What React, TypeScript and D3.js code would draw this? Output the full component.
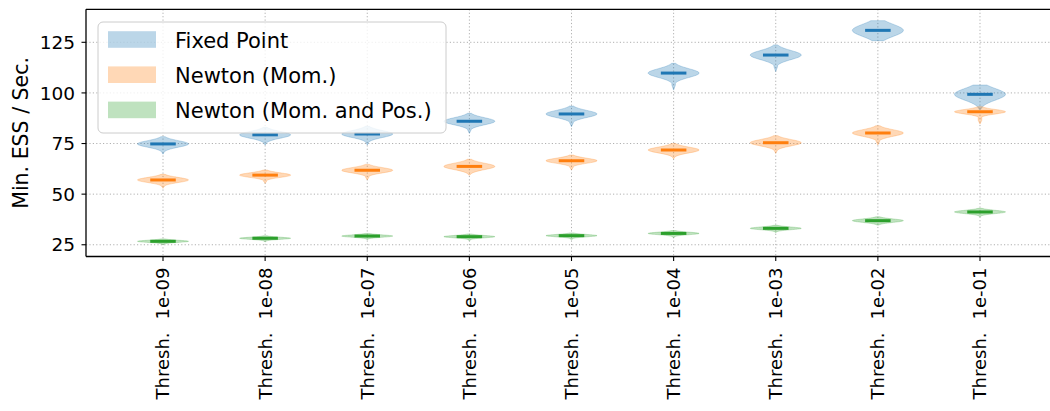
import React from "react";
import * as d3 from "d3";

const categories = ["1e-09", "1e-08", "1e-07", "1e-06", "1e-05", "1e-04", "1e-03", "1e-02", "1e-01"];
const yTicks = [25, 50, 75, 100, 125];

const seriesNames = ["Fixed Point", "Newton (Mom.)", "Newton (Mom. and Pos.)"];
const seriesColors = ["#1f77b4", "#ff7f0e", "#2ca02c"];

// medians, upper and lower extents of each violin
const fixedMed = [74.8, 79.3, 79.7, 86.0, 89.6, 109.8, 118.7, 130.9, 99.3];
const fixedHi = [78.4, 83.0, 83.5, 89.9, 93.5, 114.6, 123.7, 135.7, 103.9];
const fixedLo = [69.8, 74.3, 74.3, 80.0, 83.3, 101.4, 110.5, 125.8, 91.8];
const fixedShape = [2.5, 2.5, 2.5, 2.5, 2.5, 2.5, 2.5, 1.3, 1.3];

const newtonMed = [57.0, 59.4, 61.8, 63.7, 66.5, 71.8, 75.4, 80.2, 90.7];
const newtonHi = [59.8, 61.9, 64.7, 67.2, 69.3, 75.0, 78.9, 83.8, 93.2];
const newtonLo = [52.9, 55.3, 57.0, 59.4, 61.9, 67.5, 70.2, 74.3, 84.6];
const newtonShape = [2.5, 2.5, 2.5, 2.5, 2.5, 2.5, 2.5, 2.5, 2.5];

const posMed = [26.7, 28.2, 29.3, 29.0, 29.5, 30.6, 33.1, 36.9, 41.2];
const posHi = [27.9, 29.4, 30.6, 30.3, 30.8, 32.0, 34.6, 38.8, 43.0];
const posLo = [25.0, 26.4, 27.5, 27.0, 27.5, 28.5, 31.0, 34.7, 38.8];
const posShape = [2.5, 2.5, 2.5, 2.5, 2.5, 2.5, 2.5, 2.5, 2.5];

const series = [
  { med: fixedMed, hi: fixedHi, lo: fixedLo, shape: fixedShape },
  { med: newtonMed, hi: newtonHi, lo: newtonLo, shape: newtonShape },
  { med: posMed, hi: posHi, lo: posLo, shape: posShape },
];

const W = 1050;
const H = 411;
const FONT = "DejaVu Sans";

const x = d3.scaleLinear().domain([0.246, 9.754]).range([86, 1057]);
const y = d3.scaleLinear().domain([19.2, 141.3]).range([256.5, 9.3]);

function profile(v: number, med: number, hi: number, lo: number, k: number) {
  const h = Math.max(hi - med, 0.3);
  const d = v - med;
  let f = Math.exp(-k * (d / h) * (d / h));
  if (d < 0) {
    const depth = Math.max(med - lo, 0.01);
    const taper = Math.min(1, (v - lo) / (0.3 * depth));
    f = Math.max(f, 0.07 * taper);
  }
  return f;
}

export default function App() {
  const halfMax = x(1.25) - x(1);
  const area = d3
    .area<{ v: number; w: number; c: number }>()
    .y((d) => y(d.v))
    .x0((d) => d.c - d.w)
    .x1((d) => d.c + d.w)
    .curve(d3.curveBasis);

  const plotTop = y(141.3);
  const plotBottom = y(19.2);
  const plotLeft = x(0.246);
  const plotRight = x(9.754);

  return (
    <svg
      width={W}
      height={H}
      style={{ position: "absolute", left: 0, top: 0, background: "#fff", fontFamily: FONT }}
    >
      <rect x={0} y={0} width={W} height={H} fill="#fff" />
      {/* grid */}
      <g stroke="#b0b0b0" strokeWidth={1} strokeDasharray="1.2,2.2">
        {categories.map((c, i) => (
          <line key={c} x1={x(i + 1)} x2={x(i + 1)} y1={plotTop} y2={plotBottom} />
        ))}
        {yTicks.map((t) => (
          <line key={t} x1={plotLeft} x2={plotRight} y1={y(t)} y2={y(t)} />
        ))}
      </g>
      {/* violins */}
      {series.map((s, si) => (
        <g key={si}>
          {s.med.map((m, i) => {
            const c = x(i + 1);
            const lo = s.lo[i];
            const hi = s.hi[i];
            const n = 60;
            const pts = d3.range(n + 1).map((j) => {
              const v = lo + ((hi - lo) * j) / n;
              return { v, c, w: halfMax * profile(v, m, hi, lo, s.shape[i]) };
            });
            return (
              <path
                key={i}
                d={area(pts) || ""}
                fill={seriesColors[si]}
                fillOpacity={0.3}
                stroke={seriesColors[si]}
                strokeOpacity={0.3}
                strokeWidth={0.8}
              />
            );
          })}
          {s.med.map((m, i) => (
            <line
              key={"m" + i}
              x1={x(i + 1 - 0.125)}
              x2={x(i + 1 + 0.125)}
              y1={y(m)}
              y2={y(m)}
              stroke={seriesColors[si]}
              strokeWidth={3}
            />
          ))}
        </g>
      ))}
      {/* spines */}
      <g stroke="#000" strokeWidth={1.3} fill="none">
        <line x1={plotLeft} x2={plotLeft} y1={plotTop} y2={plotBottom} />
        <line x1={plotLeft} x2={plotRight} y1={plotBottom} y2={plotBottom} />
        <line x1={plotLeft} x2={plotRight} y1={plotTop} y2={plotTop} />
        <line x1={plotRight} x2={plotRight} y1={plotTop} y2={plotBottom} />
      </g>
      {/* y ticks */}
      {yTicks.map((t) => (
        <g key={t}>
          <line x1={plotLeft - 4.5} x2={plotLeft} y1={y(t)} y2={y(t)} stroke="#000" strokeWidth={1.1} />
          <text x={plotLeft - 11} y={y(t)} dy="0.36em" textAnchor="end" fontSize={18.5} fill="#000" fontFamily={FONT}>
            {t}
          </text>
        </g>
      ))}
      {/* x ticks */}
      {categories.map((c, i) => (
        <g key={c}>
          <line x1={x(i + 1)} x2={x(i + 1)} y1={plotBottom} y2={plotBottom + 4.5} stroke="#000" strokeWidth={1.1} />
          <text
            transform={`translate(${x(i + 1)},${plotBottom + 11}) rotate(-90)`}
            textAnchor="end"
            dy="0.36em"
            fontSize={18}
            fill="#000"
            fontFamily={FONT}
          >
            <tspan>Thresh.</tspan>
            <tspan dx={13}>{c}</tspan>
          </text>
        </g>
      ))}
      {/* y label */}
      <text
        transform={`translate(21,${(plotTop + plotBottom) / 2}) rotate(-90)`}
        textAnchor="middle"
        dy="0.36em"
        fontSize={20.5}
        fill="#000"
        fontFamily={FONT}
      >
        Min. ESS / Sec.
      </text>
      {/* legend */}
      <g>
        <rect x={98} y={22} width={348} height={111} rx={5} ry={5} fill="#fff" fillOpacity={0.8} stroke="#cccccc" strokeWidth={1} />
        {seriesNames.map((name, i) => {
          const cy = 39.5 + i * 35.2;
          return (
            <g key={name}>
              <rect x={108} y={cy - 8.3} width={48} height={16.6} fill={seriesColors[i]} fillOpacity={0.3} />
              <text x={175} y={cy + 8.5} fontSize={21} fill="#000" fontFamily={FONT}>
                {name}
              </text>
            </g>
          );
        })}
      </g>
    </svg>
  );
}
